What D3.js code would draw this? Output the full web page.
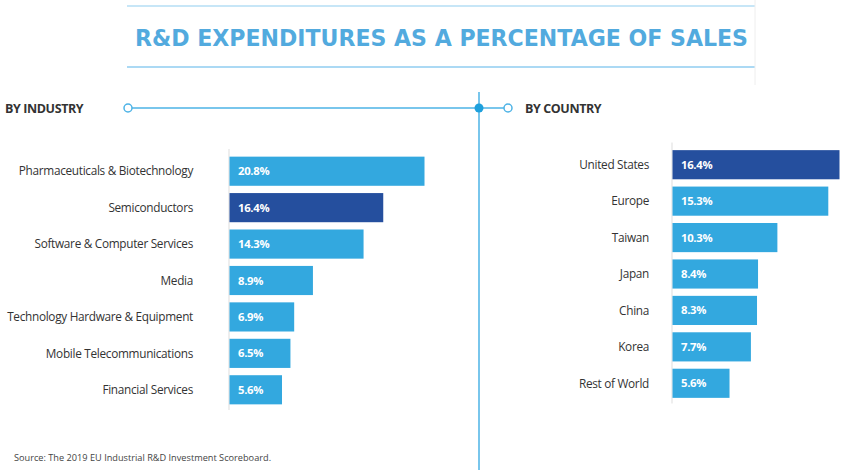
<!DOCTYPE html>
<html>
<head>
<meta charset="utf-8">
<script src="https://cdn.jsdelivr.net/npm/d3@7"></script>
<style>
  body { margin: 0; background: #fff; }
  svg { display: block; }
</style>
</head>
<body>
<div id="chart"></div>
<script>
// data
const industries = ["Pharmaceuticals & Biotechnology", "Semiconductors", "Software & Computer Services",
  "Media", "Technology Hardware & Equipment", "Mobile Telecommunications", "Financial Services"];
const industryValues = [20.8, 16.4, 14.3, 8.9, 6.9, 6.5, 5.6];
const countries = ["United States", "Europe", "Taiwan", "Japan", "China", "Korea", "Rest of World"];
const countryValues = [16.4, 15.3, 10.3, 8.4, 8.3, 7.7, 5.6];
const highlightIndustry = "Semiconductors";
const highlightCountry = "United States";

const W = 849, H = 470;
const light = "#33a8df", dark = "#254f9e", accent = "#4db3e6";

const svg = d3.select("#chart").append("svg")
  .attr("width", W).attr("height", H);

// title with lines
svg.append("line").attr("x1", 127).attr("x2", 755).attr("y1", 6).attr("y2", 6)
  .attr("stroke", "#8fcdf0").attr("stroke-width", 1.2);
svg.append("line").attr("x1", 127).attr("x2", 755).attr("y1", 67).attr("y2", 67)
  .attr("stroke", "#8fcdf0").attr("stroke-width", 1.5);
svg.append("line").attr("x1", 755).attr("x2", 755).attr("y1", 0).attr("y2", 85)
  .attr("stroke", "#eeeeee").attr("stroke-width", 1);
svg.append("text")
  .attr("x", 135).attr("y", 46)
  .attr("textLength", 613).attr("lengthAdjust", "spacingAndGlyphs")
  .style("font-family", "'DejaVu Sans'")
  .style("font-size", "23px").style("font-weight", "bold")
  .style("fill", "#52aade")
  .text("R&D EXPENDITURES AS A PERCENTAGE OF SALES");

// section headers & connector
svg.append("line").attr("x1", 132).attr("x2", 504).attr("y1", 108).attr("y2", 108)
  .attr("stroke", accent).attr("stroke-width", 1.5);
svg.append("line").attr("x1", 479).attr("x2", 479).attr("y1", 92).attr("y2", H)
  .attr("stroke", accent).attr("stroke-width", 1.5);
svg.append("circle").attr("cx", 128).attr("cy", 108).attr("r", 4)
  .attr("fill", "#fff").attr("stroke", accent).attr("stroke-width", 1.5);
svg.append("circle").attr("cx", 508).attr("cy", 108).attr("r", 4)
  .attr("fill", "#fff").attr("stroke", accent).attr("stroke-width", 1.5);
svg.append("circle").attr("cx", 479).attr("cy", 108).attr("r", 4.5)
  .attr("fill", "#1ea0dc");

svg.append("text").attr("x", 5).attr("y", 113)
  .style("font-family", "'Open Sans'").style("font-size", "12.5px").style("font-weight", "bold")
  .style("fill", "#333").style("letter-spacing", "-0.4px")
  .text("BY INDUSTRY");
svg.append("text").attr("x", 525).attr("y", 113)
  .style("font-family", "'Open Sans'").style("font-size", "12.5px").style("font-weight", "bold")
  .style("fill", "#333").style("letter-spacing", "-0.4px")
  .text("BY COUNTRY");

function drawBars(names, values, highlight, x, y, labelX) {
  const g = svg.append("g");

  // thin axis line
  g.append("line")
    .attr("x1", x(0)).attr("x2", x(0))
    .attr("y1", y.range()[0] - 4).attr("y2", y.range()[1] + 2)
    .attr("stroke", "#dddddd").attr("stroke-width", 1);

  const rows = g.selectAll(".row")
    .data(names.map((n, i) => ({ name: n, value: values[i] })))
    .join("g").attr("class", "row");

  rows.append("rect")
    .attr("x", x(0) + 0.5)
    .attr("y", d => y(d.name))
    .attr("width", d => x(d.value) - x(0))
    .attr("height", y.bandwidth())
    .attr("fill", d => d.name === highlight ? dark : light);

  rows.append("text")
    .attr("x", x(0) + 9)
    .attr("y", d => y(d.name) + y.bandwidth() / 2)
    .attr("dy", "0.36em")
    .style("font-family", "'Open Sans'").style("font-size", "11.3px").style("font-weight", "bold")
    .style("fill", "#fff").style("letter-spacing", "-0.3px")
    .text(d => d.value.toFixed(1) + "%");

  rows.append("text")
    .attr("x", labelX)
    .attr("y", d => y(d.name) + y.bandwidth() / 2)
    .attr("dy", "0.36em")
    .attr("text-anchor", "end")
    .style("font-family", "'Open Sans'").style("font-size", "11.8px")
    .style("fill", "#333").style("letter-spacing", "-0.3px")
    .text(d => d.name);
}

// by industry
const xInd = d3.scaleLinear().domain([0, 20.8]).range([229, 424]);
const yInd = d3.scaleBand().domain(industries).range([153, 408]).paddingInner(0.2).paddingOuter(0.1);
drawBars(industries, industryValues, highlightIndustry, xInd, yInd, 193);

// by country
const xCty = d3.scaleLinear().domain([0, 16.4]).range([672, 839]);
const yCty = d3.scaleBand().domain(countries).range([146.5, 401.5]).paddingInner(0.2).paddingOuter(0.1);
drawBars(countries, countryValues, highlightCountry, xCty, yCty, 649);

// source
svg.append("text").attr("x", 14).attr("y", 461)
  .style("font-family", "'Open Sans'").style("font-size", "9.2px")
  .style("fill", "#444")
  .text("Source: The 2019 EU Industrial R&D Investment Scoreboard.");
</script>
</body>
</html>
